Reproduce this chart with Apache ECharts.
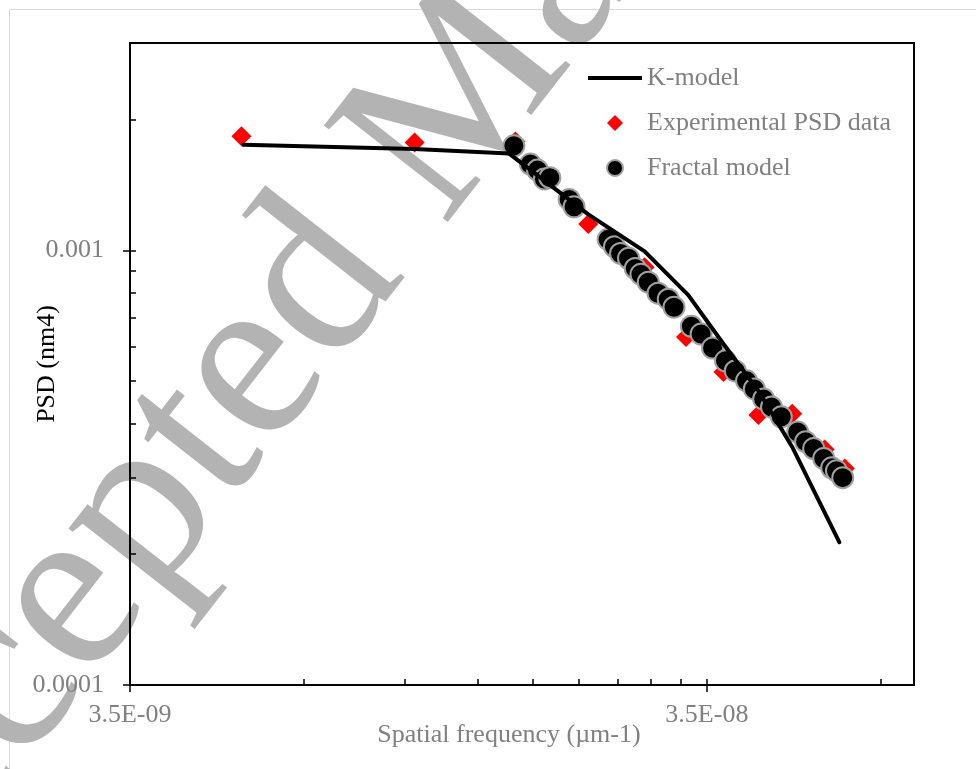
<!DOCTYPE html>
<html>
<head>
<meta charset="utf-8">
<script src="https://cdn.jsdelivr.net/npm/echarts@6/dist/echarts.min.js"></script>
<style>
  html, body { margin: 0; padding: 0; background: #fff; }
  #chart { width: 976px; height: 769px; }
</style>
</head>
<body>
<div id="chart"></div>
<script>
// spatial frequency (um-1) against PSD (nm4)
const kModelFreq = [5.50e-9, 1.09e-8, 1.59e-8, 2.18e-8, 2.73e-8, 3.25e-8, 3.74e-8, 4.30e-8, 4.92e-8, 5.94e-8]
const kModelPsd = [1.75e-3, 1.71e-3, 1.67e-3, 1.21e-3, 9.95e-4, 7.89e-4, 6.09e-4, 4.75e-4, 3.53e-4, 2.13e-4]

const expFreq = [5.46e-9, 1.09e-8, 1.63e-8, 2.18e-8, 2.73e-8, 3.22e-8, 3.74e-8, 4.30e-8, 4.92e-8, 5.60e-8, 6.07e-8]
const expPsd = [1.83e-3, 1.77e-3, 1.78e-3, 1.15e-3, 9.14e-4, 6.32e-4, 5.25e-4, 4.18e-4, 4.21e-4, 3.48e-4, 3.15e-4]

const fractalFreq = [1.62e-8, 1.73e-8, 1.78e-8, 1.83e-8, 1.87e-8, 2.02e-8, 2.06e-8, 2.36e-8, 2.42e-8, 2.48e-8,
  2.56e-8, 2.63e-8, 2.69e-8, 2.77e-8, 2.88e-8, 3.00e-8, 3.07e-8, 3.29e-8, 3.42e-8, 3.58e-8,
  3.77e-8, 3.92e-8, 4.10e-8, 4.23e-8, 4.39e-8, 4.53e-8, 4.71e-8, 5.03e-8, 5.19e-8, 5.36e-8,
  5.58e-8, 5.76e-8, 5.87e-8, 6.02e-8]
const fractalPsd = [1.74e-3, 1.58e-3, 1.53e-3, 1.46e-3, 1.47e-3, 1.31e-3, 1.26e-3, 1.06e-3, 1.02e-3, 9.84e-4,
  9.59e-4, 9.09e-4, 8.81e-4, 8.45e-4, 7.97e-4, 7.72e-4, 7.40e-4, 6.69e-4, 6.42e-4, 5.96e-4,
  5.57e-4, 5.28e-4, 5.01e-4, 4.80e-4, 4.55e-4, 4.36e-4, 4.14e-4, 3.82e-4, 3.63e-4, 3.50e-4,
  3.32e-4, 3.16e-4, 3.11e-4, 3.00e-4]

// ticks (excel style log axes: major labelled, minor inside)
const xMajorTicks = [3.5e-9, 3.5e-8]
const xMajorLabels = ['3.5E-09', '3.5E-08']
const xInnerTicks = [7e-9, 1.05e-8, 1.4e-8, 1.75e-8, 2.1e-8, 2.45e-8, 2.8e-8, 3.15e-8, 3.5e-8, 7e-8]
const yMajorTicks = [1e-4, 1e-3]
const yMajorLabels = ['0.0001', '0.001']
const yInnerTicks = [2e-4, 3e-4, 4e-4, 5e-4, 6e-4, 7e-4, 8e-4, 9e-4, 1e-3, 2e-3]

const FONT = '"Liberation Serif", "Times New Roman", serif'
const GREY = '#808080'

function zip(a, b) {
  return a.map((v, i) => [v, b[i]])
}

// pick the label of the closest tick (log values come back a bit off)
function labelFor(v, ticks, labels) {
  let best = 0
  ticks.forEach((t, i) => {
    if (Math.abs(Math.log10(t) - Math.log10(v)) < Math.abs(Math.log10(ticks[best]) - Math.log10(v))) best = i
  })
  return labels[best]
}

const chart = echarts.init(document.getElementById('chart'))

const baseX = {type: 'log', logBase: 10, min: 3.5e-9, max: 8e-8, position: 'bottom', splitLine: {show: false}, minorTick: {show: false}}
const baseY = {type: 'log', logBase: 10, min: 1e-4, max: 3e-3, position: 'left', splitLine: {show: false}, minorTick: {show: false}}

// watermark placement
const wmAngle = 52 * Math.PI / 180

const option = {
  animation: false,
  backgroundColor: '#fff',
  grid: {
    left: 130, right: 62, top: 43, bottom: 84,
    show: true, borderColor: '#000', borderWidth: 2,
    containLabel: false, outerBoundsMode: 'none'
  },
  legend: {
    orient: 'vertical', left: 583, top: 60,
    itemWidth: 54, itemHeight: 16, itemGap: 19,
    textStyle: {fontFamily: FONT, fontSize: 26, color: GREY, lineHeight: 26},
    data: [
      {name: 'K-model', icon: 'path://M0,0H54V4H0Z'},
      {name: 'Experimental PSD data', icon: 'path://M0,-1L1,0L0,1L-1,0Z'},
      {name: 'Fractal model', icon: 'circle'}
    ]
  },
  xAxis: [
    Object.assign({}, baseX, {
      name: 'Spatial frequency (µm-1)', nameLocation: 'middle', nameGap: 37, nameMoveOverlap: false,
      nameTextStyle: {fontFamily: FONT, fontSize: 26, color: GREY, padding: [0, 26, 0, 0]},
      axisLine: {show: true, lineStyle: {color: '#000', width: 2}},
      axisTick: {show: true, inside: false, length: 7, lineStyle: {color: '#000', width: 1.5}, customValues: xMajorTicks},
      axisLabel: {
        show: true, margin: 17, fontFamily: FONT, fontSize: 26, color: GREY,
        customValues: xMajorTicks,
        formatter: v => labelFor(v, xMajorTicks, xMajorLabels)
      }
    }),
    Object.assign({}, baseX, {
      axisLine: {show: false},
      axisTick: {show: true, inside: true, length: 6, lineStyle: {color: '#000', width: 1.5}, customValues: xInnerTicks},
      axisLabel: {show: false}
    })
  ],
  yAxis: [
    Object.assign({}, baseY, {
      name: 'PSD (nm4)', nameLocation: 'middle', nameGap: 70, nameMoveOverlap: false,
      nameTextStyle: {fontFamily: FONT, fontSize: 26, color: '#000'},
      axisLine: {show: true, lineStyle: {color: '#000', width: 2}},
      axisTick: {show: true, inside: false, length: 7, lineStyle: {color: '#000', width: 1.5}, customValues: yMajorTicks},
      axisLabel: {
        show: true, margin: 26, fontFamily: FONT, fontSize: 26, color: GREY,
        customValues: yMajorTicks,
        formatter: v => labelFor(v, yMajorTicks, yMajorLabels)
      }
    }),
    Object.assign({}, baseY, {
      axisLine: {show: false},
      axisTick: {show: true, inside: true, length: 6, lineStyle: {color: '#000', width: 1.5}, customValues: yInnerTicks},
      axisLabel: {show: false}
    })
  ],
  graphic: [
    {
      type: 'rect', silent: true, z: -20,
      shape: {x: 9.5, y: 9.5, width: 1100, height: 1100},
      style: {fill: 'none', stroke: '#d9d9d9', lineWidth: 1}
    },
    {
      // watermark
      type: 'text', silent: true, z: -10,
      x: -201, y: 950, rotation: wmAngle,
      style: {
        text: 'Accepted Manuscript', font: '240px "Liberation Serif"', fill: '#b3b3b3',
        align: 'left', verticalAlign: 'middle', textAlign: 'left', textVerticalAlign: 'middle'
      }
    }
  ],
  series: [
    {
      name: 'K-model', type: 'line', xAxisIndex: 0, yAxisIndex: 0,
      data: zip(kModelFreq, kModelPsd),
      symbol: 'none', showSymbol: false,
      lineStyle: {color: '#000', width: 4, cap: 'round', join: 'round'},
      itemStyle: {color: '#000'}
    },
    {
      name: 'Experimental PSD data', type: 'scatter', xAxisIndex: 0, yAxisIndex: 0,
      data: zip(expFreq, expPsd),
      symbol: 'diamond', symbolSize: 20,
      itemStyle: {color: '#ff0000', opacity: 1}
    },
    {
      name: 'Fractal model', type: 'scatter', xAxisIndex: 0, yAxisIndex: 0,
      data: zip(fractalFreq, fractalPsd),
      symbol: 'circle', symbolSize: 21,
      itemStyle: {color: '#000', borderColor: '#a0a0a0', borderWidth: 2, opacity: 1}
    }
  ]
}

chart.setOption(option)
</script>
</body>
</html>
